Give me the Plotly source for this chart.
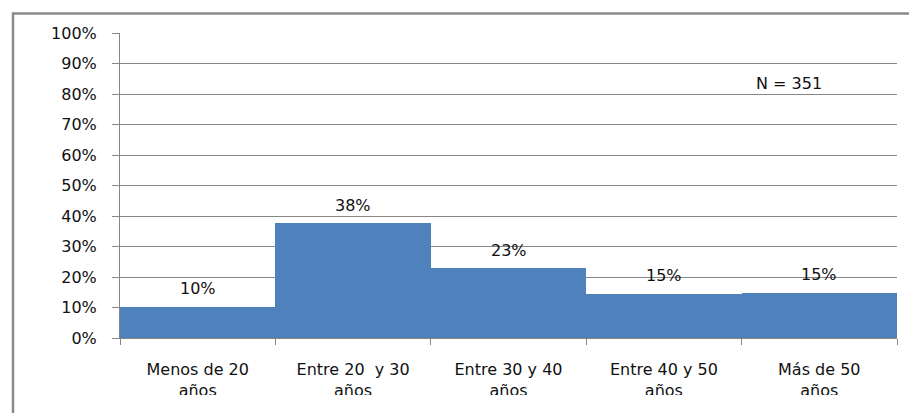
import plotly.graph_objects as go

categories = ["Menos de 20<br>años", "Entre 20  y 30<br>años", "Entre 30 y 40<br>años",
              "Entre 40 y 50<br>años", "Más de 50<br>años"]
values = [10.26, 37.6, 22.8, 14.5, 14.8]
value_labels = ["10%", "38%", "23%", "15%", "15%"]
y_ticks = [0, 10, 20, 30, 40, 50, 60, 70, 80, 90, 100]
y_tick_text = [f"{v}%" for v in y_ticks]
note_text = "N = 351"

FONT = "DejaVu Sans"
GRID = "#868686"
FS = 16

fig = go.Figure()
fig.add_trace(go.Bar(x=categories, y=values, marker=dict(color="#4F81BD", line=dict(width=0)),
                     hoverinfo="skip"))

annotations = []
for c, v, t in zip(categories, values, value_labels):
    annotations.append(dict(x=c, y=v, text=t, showarrow=False, xanchor="center",
                            yanchor="middle", yshift=18,
                            font=dict(family=FONT, size=FS, color="#111")))
annotations.append(dict(x=0.861, y=0.836, xref="paper", yref="paper", text=note_text,
                        showarrow=False, xanchor="center", yanchor="middle",
                        font=dict(family=FONT, size=FS, color="#111")))

shapes = [
    dict(type="rect", xref="paper", yref="paper", x0=-0.133, x1=1.03, y0=-0.187, y1=-0.32,
         fillcolor="white", line=dict(width=0), layer="above"),
    dict(type="rect", xref="paper", yref="paper", x0=-0.1377, x1=1.03, y0=-0.32, y1=1.0639,
         fillcolor="rgba(0,0,0,0)", line=dict(color="#8a8a8a", width=2.5), layer="above"),
]

fig.update_layout(
    width=909, height=413,
    margin=dict(l=120, r=12, t=33, b=75),
    paper_bgcolor="white", plot_bgcolor="white",
    bargap=0, showlegend=False,
    annotations=annotations, shapes=shapes,
    font=dict(family=FONT, size=FS, color="#111"),
)
fig.update_xaxes(
    showgrid=False, showline=True, linecolor=GRID, linewidth=1,
    ticks="outside", tickson="boundaries", ticklen=6, tickcolor=GRID,
    tickfont=dict(family=FONT, size=FS, color="#111"), ticklabelstandoff=17,
)
fig.update_yaxes(
    range=[0, 100], tickvals=y_ticks, ticktext=y_tick_text,
    showgrid=True, gridcolor=GRID, gridwidth=1,
    showline=True, linecolor=GRID, linewidth=1,
    ticks="outside", ticklen=7, tickcolor=GRID,
    tickfont=dict(family=FONT, size=FS, color="#111"), ticklabelstandoff=12,
    zeroline=False,
)

fig.write_html("out.html", config={"displayModeBar": False},
               post_script="document.body.style.margin='0';document.body.style.padding='0';")
